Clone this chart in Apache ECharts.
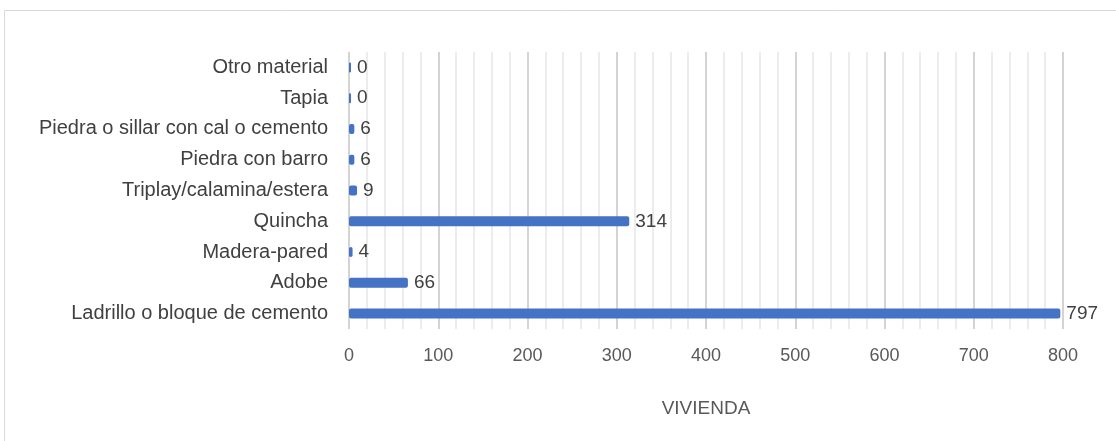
<!DOCTYPE html>
<html><head><meta charset="utf-8">
<script src="https://cdn.jsdelivr.net/npm/echarts@6/dist/echarts.min.js"></script>
<style>html,body{margin:0;padding:0;background:#fff}#c{width:1116px;height:441px}</style>
</head><body><div id="c"></div>
<script>
const categories = ["Ladrillo o bloque de cemento","Adobe","Madera-pared","Quincha","Triplay/calamina/estera","Piedra con barro","Piedra o sillar con cal o cemento","Tapia","Otro material"];
const values = [797,66,4,314,9,6,6,0,0];
const axisTitle = "VIVIENDA";
const FONT = "'Liberation Sans', Arial, sans-serif";
const chart = echarts.init(document.getElementById('c'));
chart.setOption({
  animation:false,
  graphic:[{type:'rect',shape:{x:4.5,y:10.5,width:1120,height:440},style:{fill:'none',stroke:'#d9d9d9',lineWidth:1}}],
  grid:{left:349,right:53,top:52,height:277},
  xAxis:{type:'value',min:0,max:800,interval:100,
    name:axisTitle,nameLocation:'middle',nameGap:70,
    nameTextStyle:{fontFamily:FONT,fontSize:19,color:'#595959'},
    axisLine:{show:false},axisTick:{show:false},
    axisLabel:{fontFamily:FONT,fontSize:18,color:'#595959',margin:18},
    splitLine:{show:true,lineStyle:{color:'#d4d4d4',width:2}},
    minorTick:{show:false,splitNumber:5},
    minorSplitLine:{show:true,lineStyle:{color:'#ececec',width:2}}
  },
  yAxis:{type:'category',data:categories,
    axisLine:{show:false},axisTick:{show:false},
    axisLabel:{fontFamily:FONT,fontSize:20,color:'#404040',margin:21,interval:0}
  },
  series:[{type:'bar',data:values,barWidth:10,barMinHeight:2,
    itemStyle:{color:'#4472C4',borderRadius:2},
    label:{show:true,position:'right',distance:6,fontFamily:FONT,fontSize:19,color:'#404040'}
  }]
});
</script></body></html>
